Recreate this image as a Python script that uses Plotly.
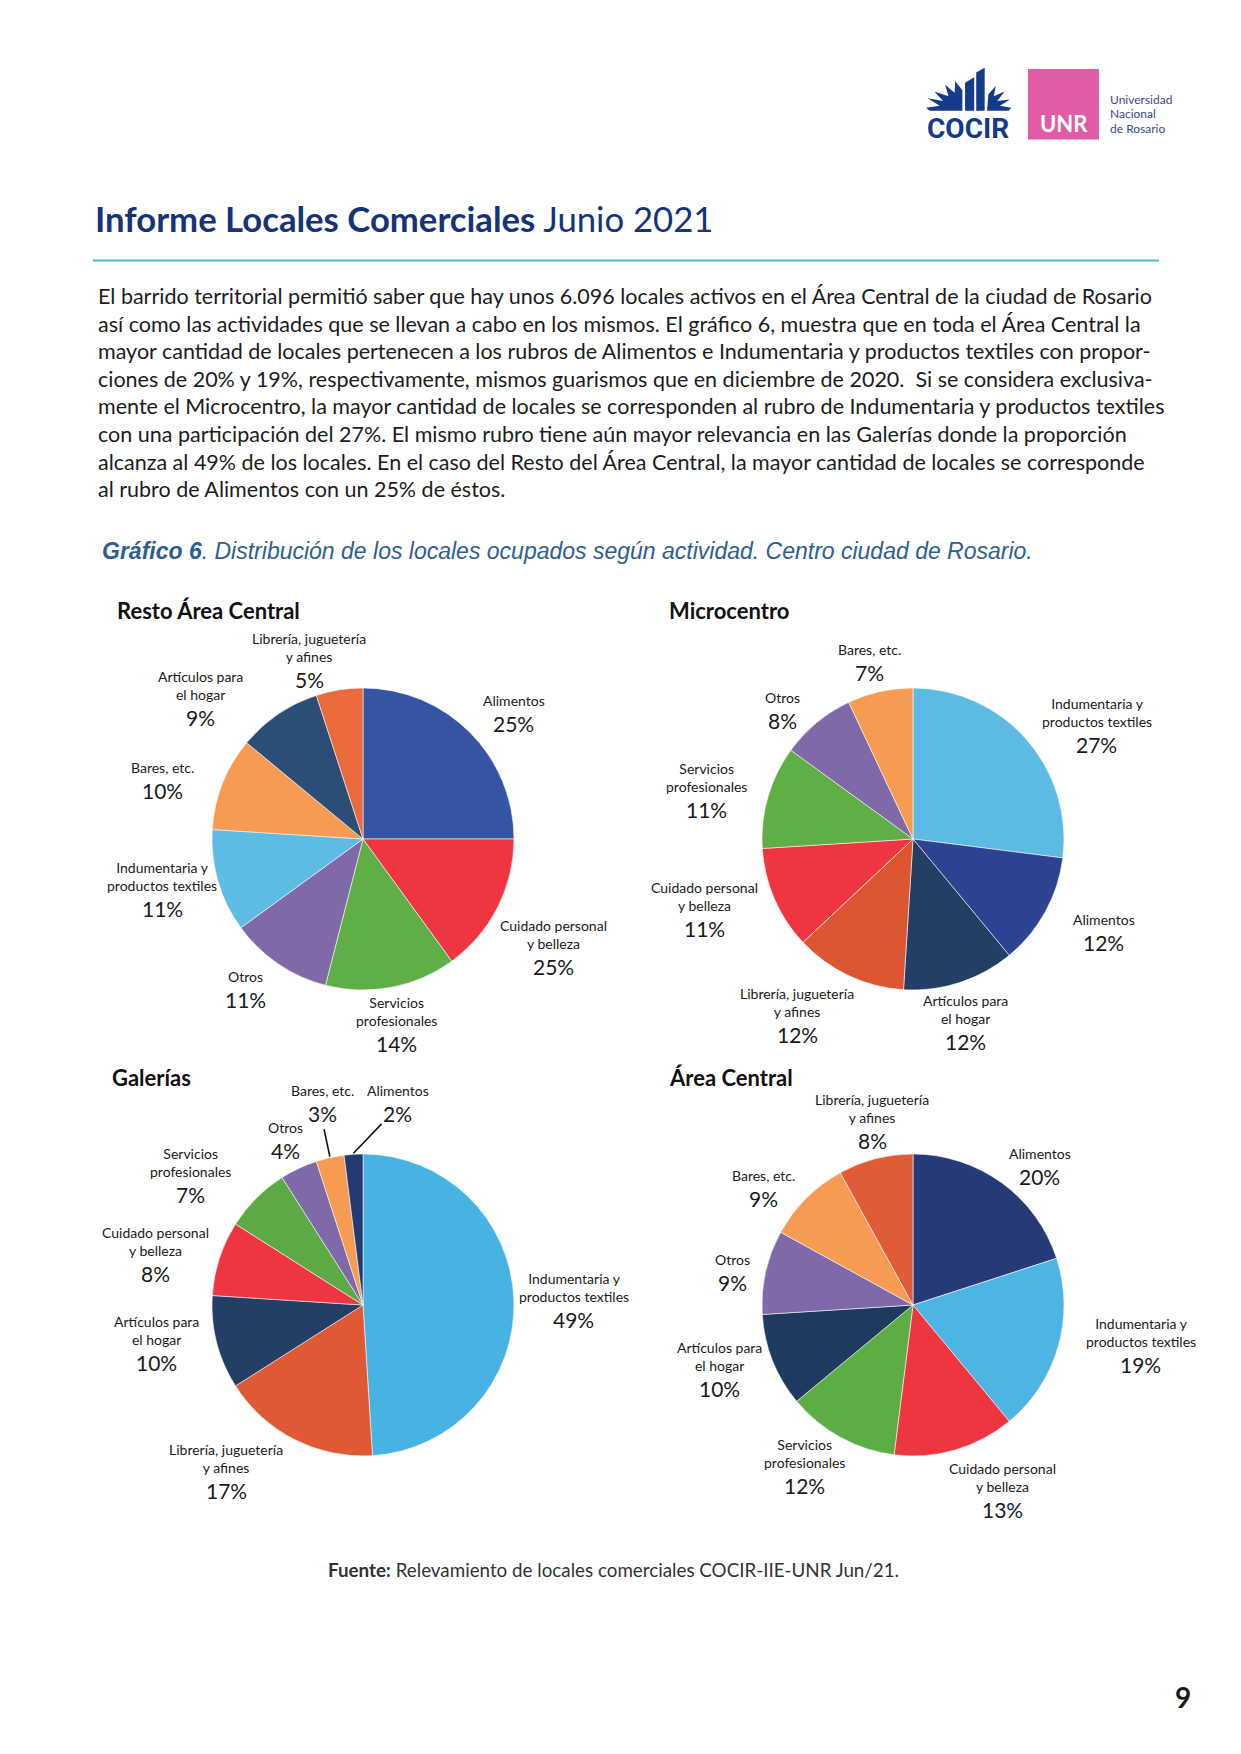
import math
import plotly.graph_objects as go

W, H = 1241, 1754

# ---------------- data ----------------
resto_labels = ["Alimentos", "Cuidado personal<br>y belleza", "Servicios<br>profesionales", "Otros",
                "Indumentaria y<br>productos textiles", "Bares, etc.", "Artículos para<br>el hogar",
                "Librería, juguetería<br>y afines"]
resto_values = [25, 15, 14, 11, 11, 10, 9, 5]
resto_pct_text = ["25%", "25%", "14%", "11%", "11%", "10%", "9%", "5%"]   # as printed

micro_labels = ["Indumentaria y<br>productos textiles", "Alimentos", "Artículos para<br>el hogar",
                "Librería, juguetería<br>y afines", "Cuidado personal<br>y belleza",
                "Servicios<br>profesionales", "Otros", "Bares, etc."]
micro_values = [27, 12, 12, 12, 11, 11, 8, 7]

gal_labels = ["Indumentaria y<br>productos textiles", "Librería, juguetería<br>y afines",
              "Artículos para<br>el hogar", "Cuidado personal<br>y belleza", "Servicios<br>profesionales",
              "Otros", "Bares, etc.", "Alimentos"]
gal_values = [49, 17, 10, 8, 7, 4, 3, 2]

area_labels = ["Alimentos", "Indumentaria y<br>productos textiles", "Cuidado personal<br>y belleza",
               "Servicios<br>profesionales", "Artículos para<br>el hogar", "Otros", "Bares, etc.",
               "Librería, juguetería<br>y afines"]
area_values = [20, 19, 13, 12, 10, 9, 9, 8]

body_lines = [
    "El barrido territorial permitió saber que hay unos 6.096 locales activos en el Área Central de la ciudad de Rosario",
    "así como las actividades que se llevan a cabo en los mismos. El gráfico 6, muestra que en toda el Área Central la",
    "mayor cantidad de locales pertenecen a los rubros de Alimentos e Indumentaria y productos textiles con propor-",
    "ciones de 20% y 19%, respectivamente, mismos guarismos que en diciembre de 2020.  Si se considera exclusiva-",
    "mente el Microcentro, la mayor cantidad de locales se corresponden al rubro de Indumentaria y productos textiles",
    "con una participación del 27%. El mismo rubro tiene aún mayor relevancia en las Galerías donde la proporción",
    "alcanza al 49% de los locales. En el caso del Resto del Área Central, la mayor cantidad de locales se corresponde",
    "al rubro de Alimentos con un 25% de éstos.",
]

# ---------------- styles ----------------
C_ALI = "#3555A3"; C_CUI = "#EE3540"; C_SER = "#5FAE46"; C_OTR = "#7F69A8"
C_IND = "#58B9E4"; C_BAR = "#F79A52"; C_ART = "#284B74"; C_LIB = "#E2603A"

FONT = "Lato, sans-serif"
R = 151
EX, EY = 229, 196
LABEL_DY = -3

pies = [
    dict(title="Resto Área Central", title_pos=(115, 610), center=(363, 839),
         labels=resto_labels, values=resto_values, pct=resto_pct_text,
         colors=[C_ALI, C_CUI, C_SER, C_OTR, "#5EBCE4", C_BAR, "#2B4E77", "#EA693D"],
         nudges=[(-11, 15), (-14, 22), (-9, -5), (11, -10), (19, -2), (12, 16), (-34, 24), (-18, 18)],
         leaders={}),
    dict(title="Microcentro", title_pos=(667, 610), center=(913, 839),
         labels=micro_labels, values=micro_values, pct=[f"{v}%" for v in micro_values],
         colors=["#5CBAE4", "#2D4391", "#233F65", "#DD5632", C_CUI, C_SER, C_OTR, C_BAR],
         nudges=[(12, 19), (-10, 1), (-18, 0), (-18, 2), (2, -5), (13, 9), (15, 25), (6, 17)],
         leaders={}),
    dict(title="Galerías", title_pos=(110, 1077), center=(363, 1305),
         labels=gal_labels, values=gal_values, pct=[f"{v}%" for v in gal_values],
         colors=["#47B3E3", "#DF5A34", "#243F66", C_CUI, "#5DAA45", C_OTR, C_BAR, "#253A72"],
         nudges=[(-18, 4), (-33, -6), (15, -8), (10, 13), (-11, 12), (20, 15), (9, -8), (49, -4)],
         leaders={6: (2, 27), 7: (-16, 22)}),
    dict(title="Área Central", title_pos=(667, 1077), center=(913, 1305),
         labels=area_labels, values=area_values, pct=[f"{v}%" for v in area_values],
         colors=["#273A78", "#4DB5E3", C_CUI, "#5DAD45", "#1F3A5F", C_OTR, C_BAR, "#E05C36"],
         nudges=[(-8, 22), (8, -12), (26, 0), (2, -8), (19, -5), (43, 12), (12, 24), (16, 9)],
         leaders={}),
]


def px(x):
    return x / W


def py(y):
    return 1 - y / H


fig = go.Figure()
annotations = []
shapes = []

for p in pies:
    cx, cy = p["center"]
    fig.add_trace(go.Pie(
        labels=[l.replace("<br>", " ") for l in p["labels"]],
        values=p["values"], sort=False, direction="clockwise", rotation=0,
        marker=dict(colors=p["colors"], line=dict(color="rgba(255,255,255,0.7)", width=0.8)),
        textinfo="none", hoverinfo="skip", showlegend=False,
        domain=dict(x=[px(cx - R), px(cx + R)], y=[py(cy + R), py(cy - R)]),
    ))
    annotations.append(dict(text=f"<b>{p['title']}</b>", x=px(p["title_pos"][0]), y=py(p["title_pos"][1]),
                            xref="paper", yref="paper", xanchor="left", yanchor="middle", showarrow=False,
                            font=dict(family=FONT, size=22, color="#111111")))
    tot = sum(p["values"])
    cum = 0
    for i, (lab, v) in enumerate(zip(p["labels"], p["values"])):
        mid = (cum + v / 2) / tot * 2 * math.pi
        cum += v
        n = lab.count("<br>") + 1
        lx = cx + EX * math.sin(mid) + p["nudges"][i][0]
        ly = cy - EY * math.cos(mid) + (n * 17 - 22) / 2 + p["nudges"][i][1] + LABEL_DY
        annotations.append(dict(text=lab, x=px(lx), y=py(ly), xref="paper", yref="paper",
                                xanchor="center", yanchor="bottom", showarrow=False, borderpad=0,
                                font=dict(family=FONT, size=14, color="#1a1a1a")))
        annotations.append(dict(text=p["pct"][i], x=px(lx), y=py(ly), xref="paper", yref="paper",
                                xanchor="center", yanchor="top", showarrow=False, borderpad=0,
                                font=dict(family=FONT, size=21, color="#1a1a1a")))
        if i in p["leaders"]:
            ox, oy = p["leaders"][i]
            ex_ = cx + (R + 1) * math.sin(mid)
            ey_ = cy - (R + 1) * math.cos(mid)
            shapes.append(dict(type="line", xref="paper", yref="paper",
                               x0=px(lx + ox), y0=py(ly + oy + 2), x1=px(ex_), y1=py(ey_),
                               line=dict(color="#111111", width=1.6)))

# header
annotations.append(dict(text="<b>Informe Locales Comerciales</b> Junio 2021", x=px(93), y=py(219),
                        xref="paper", yref="paper", xanchor="left", yanchor="middle", showarrow=False,
                        font=dict(family=FONT, size=34.7, color="#15337A")))
shapes.append(dict(type="line", xref="paper", yref="paper", x0=px(93), x1=px(1159), y0=py(260.5), y1=py(260.5),
                   line=dict(color="#4DB8DE", width=2)))

for k, line in enumerate(body_lines):
    annotations.append(dict(text=line, x=px(96), y=py(296 + 27.6 * k), xref="paper", yref="paper",
                            xanchor="left", yanchor="middle", showarrow=False,
                            font=dict(family=FONT, size=21.5, color="#1c1c1c")))

annotations.append(dict(
    text="<i><b>Gráfico 6</b>. Distribución de los locales ocupados según actividad. Centro ciudad de Rosario.</i>",
    x=px(100), y=py(551), xref="paper", yref="paper", xanchor="left", yanchor="middle", showarrow=False,
    font=dict(family="Liberation Sans, Arial, sans-serif", size=23, color="#2E5E91")))

annotations.append(dict(
    text="<b>Fuente:</b> Relevamiento de locales comerciales COCIR-IIE-UNR Jun/21.",
    x=px(613), y=py(1569), xref="paper", yref="paper", xanchor="center", yanchor="middle", showarrow=False,
    font=dict(family=FONT, size=18.8, color="#333333")))

annotations.append(dict(text="<b>9</b>", x=px(1183), y=py(1697), xref="paper", yref="paper",
                        xanchor="center", yanchor="middle", showarrow=False,
                        font=dict(family=FONT, size=28, color="#1a1a1a")))

# logos
def zpt(zx, zy):
    return 910 + zx / 2.96, 55 + zy / 2.96


def path_from(points):
    pts = [zpt(a, b) for a, b in points]
    s = "M " + " L ".join(f"{px(x):.5f},{py(y):.5f}" for x, y in pts) + " Z"
    return s


cocir_blue = "#143A8A"
logo_polys = [
    [(163, 82), (190, 66), (190, 165), (163, 165)],
    [(196, 52), (221, 38), (221, 165), (196, 165)],
    [(155, 165), (58, 165), (48, 156), (88, 150), (52, 128), (98, 136), (72, 108), (114, 122),
     (104, 88), (132, 112), (134, 78), (155, 104)],
    [(228, 165), (292, 165), (300, 156), (266, 150), (296, 132), (258, 136), (280, 108), (248, 122),
     (254, 92), (232, 116)],
]
for poly in logo_polys:
    shapes.append(dict(type="path", xref="paper", yref="paper", path=path_from(poly),
                       fillcolor=cocir_blue, line=dict(width=0)))

annotations.append(dict(text="<b>COCIR</b>", x=px(967.5), y=py(128), xref="paper", yref="paper",
                        xanchor="center", yanchor="middle", showarrow=False,
                        font=dict(family="Liberation Sans Narrow, Roboto, sans-serif", size=28, color=cocir_blue)))

shapes.append(dict(type="rect", xref="paper", yref="paper", x0=px(1028), x1=px(1099), y0=py(139.5), y1=py(69),
                   fillcolor="#E05CA5", line=dict(width=0)))
annotations.append(dict(text="<b>UNR</b>", x=px(1063.5), y=py(124), xref="paper", yref="paper",
                        xanchor="center", yanchor="middle", showarrow=False,
                        font=dict(family=FONT, size=22, color="white")))
for k, t in enumerate(["Universidad", "Nacional", "de Rosario"]):
    annotations.append(dict(text=t, x=px(1108), y=py(100 + 14 * k), xref="paper", yref="paper",
                            xanchor="left", yanchor="middle", showarrow=False,
                            font=dict(family=FONT, size=12, color="#3A4A8A")))

fig.update_layout(width=W, height=H, margin=dict(l=0, r=0, t=0, b=0), autosize=False,
                  paper_bgcolor="white", plot_bgcolor="white", showlegend=False,
                  annotations=annotations, shapes=shapes)

fig.write_html("out.html", config={"displayModeBar": False},
               post_script="document.body.style.margin='0';document.body.style.overflow='hidden';")
